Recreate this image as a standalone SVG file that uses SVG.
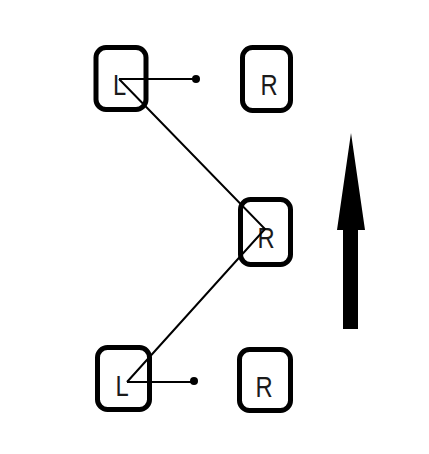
<svg xmlns="http://www.w3.org/2000/svg" width="429" height="454" viewBox="0 0 429 454">
<style>
.box{fill:#fff;stroke:#000;stroke-width:5}
.lbl{font-family:"Liberation Sans",Arial,sans-serif;font-size:29px;fill:#1a1a1a;text-anchor:middle}
.ln{stroke:#000;stroke-width:2;fill:none}
</style>
<rect width="429" height="454" fill="#fff"/>
<g id="L1"><rect class="box" x="96" y="47.5" width="50" height="62" rx="10"/><text class="lbl" transform="translate(119.5 94.5) scale(0.82 1)">L</text></g>
<g id="R1"><rect class="box" x="242.5" y="47.5" width="48" height="63" rx="10"/><text class="lbl" transform="translate(269 94.5) scale(0.82 1)">R</text></g>
<g id="R2"><rect class="box" x="240.5" y="199.5" width="50" height="65" rx="10"/><text class="lbl" transform="translate(266 247.5) scale(0.82 1)">R</text></g>
<g id="L2"><rect class="box" x="97.5" y="347.5" width="52" height="62" rx="10"/><text class="lbl" transform="translate(122 395.5) scale(0.82 1)">L</text></g>
<g id="R3"><rect class="box" x="239.5" y="349.5" width="51" height="61" rx="10"/><text class="lbl" transform="translate(264 397) scale(0.82 1)">R</text></g>
<g id="connectors">
<path class="ln" d="M119 79 H196"/>
<circle cx="196" cy="79" r="4"/>
<path class="ln" d="M119 79 L265 229 L127 382"/>
<path class="ln" d="M127 382 H194"/>
<circle cx="194" cy="381" r="4"/>
</g>
<g id="arrow">
<polygon points="351,133 365,230 358,230 358,329 343,329 343,230 337,230"/>
</g>
</svg>
